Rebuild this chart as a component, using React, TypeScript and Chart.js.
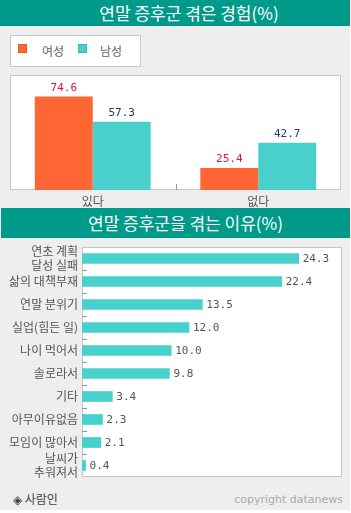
import React, { useEffect, useRef } from 'react';
import { Chart, registerables } from 'chart.js';

Chart.register(...registerables);

// ---------- data ----------
const expTitle = '연말 증후군 겪은 경험(%)';
const expCategories = ['있다', '없다'];
const seriesNames = ['여성', '남성'];
const femaleValues = [74.6, 25.4];
const maleValues = [57.3, 42.7];

const reasonTitle = '연말 증후군을 겪는 이유(%)';
const reasonLabels: (string | string[])[] = [
  ['연초 계획', '달성 실패'],
  '삶의 대책부재',
  '연말 분위기',
  '실업(힘든 일)',
  '나이 먹어서',
  '솔로라서',
  '기타',
  '아무이유없음',
  '모임이 많아서',
  ['날씨가', '추워져서'],
];
const reasonValues = [24.3, 22.4, 13.5, 12.0, 10.0, 9.8, 3.4, 2.3, 2.1, 0.4];

const sourceText = '◈ 사람인';
const copyrightText = 'copyright datanews';

// ---------- styles ----------
const KR = '"Noto Sans CJK KR", "Noto Sans", sans-serif';
const MONO = '"DejaVu Sans Mono", monospace';
const TEAL_HEAD = '#009a8a';
const ORANGE = '#ff6633';
const TURQ = '#48d1cc';
const BORDER = '#c8c8c8';

const boxPlugin = {
  id: 'boxBg',
  beforeDraw(chart: any) {
    const { ctx, chartArea: a } = chart;
    ctx.save();
    ctx.fillStyle = '#ffffff';
    ctx.fillRect(a.left, a.top, a.right - a.left, a.bottom - a.top);
    ctx.strokeStyle = BORDER;
    ctx.lineWidth = 1;
    ctx.strokeRect(a.left + 0.5, a.top + 0.5, a.right - a.left - 1, a.bottom - a.top - 1);
    ctx.restore();
  },
};

function valueLabelPlugin(horizontal: boolean, colors: string[]) {
  return {
    id: 'valueLabels',
    afterDatasetsDraw(chart: any) {
      const { ctx } = chart;
      ctx.save();
      ctx.font = `11px ${MONO}`;
      chart.data.datasets.forEach((ds: any, di: number) => {
        const meta = chart.getDatasetMeta(di);
        ctx.fillStyle = colors[di];
        meta.data.forEach((el: any, i: number) => {
          const txt = Number(ds.data[i]).toFixed(1);
          if (horizontal) {
            ctx.textAlign = 'left';
            ctx.textBaseline = 'middle';
            ctx.fillText(txt, el.x + 4, el.y + 1);
          } else {
            ctx.textAlign = 'center';
            ctx.textBaseline = 'alphabetic';
            ctx.fillText(txt, el.x, el.y - 6);
          }
        });
      });
      ctx.restore();
    },
  };
}

function tickMarkPlugin(horizontal: boolean) {
  return {
    id: 'tickMarks',
    afterDraw(chart: any) {
      const { ctx, chartArea: a } = chart;
      const scale = horizontal ? chart.scales.y : chart.scales.x;
      const n = scale.ticks.length;
      ctx.save();
      ctx.strokeStyle = '#999999';
      ctx.lineWidth = 1;
      for (let i = 1; i < n; i++) {
        const p = Math.round((scale.getPixelForTick(i - 1) + scale.getPixelForTick(i)) / 2);
        ctx.beginPath();
        if (horizontal) {
          ctx.moveTo(a.left, p + 0.5);
          ctx.lineTo(a.left + 5, p + 0.5);
        } else {
          ctx.moveTo(p + 0.5, a.bottom - 6);
          ctx.lineTo(p + 0.5, a.bottom);
        }
        ctx.stroke();
      }
      ctx.restore();
    },
  };
}

function ExperienceChart() {
  const ref = useRef<HTMLCanvasElement>(null);
  useEffect(() => {
    if (!ref.current) return;
    const maxV = Math.max(...femaleValues, ...maleValues);
    const minV = Math.min(...femaleValues, ...maleValues);
    const chart = new Chart(ref.current, {
      type: 'bar',
      data: {
        labels: expCategories,
        datasets: [
          { label: seriesNames[0], data: femaleValues, backgroundColor: ORANGE },
          { label: seriesNames[1], data: maleValues, backgroundColor: TURQ },
        ],
      },
      options: {
        animation: false,
        responsive: false,
        maintainAspectRatio: false,
        layout: { padding: 0 },
        datasets: { bar: { categoryPercentage: 0.7, barPercentage: 1.0, borderWidth: 0 } },
        plugins: { legend: { display: false }, tooltip: { enabled: false } },
        scales: {
          x: {
            grid: { display: false, drawTicks: false },
            border: { display: false },
            ticks: { color: '#555555', font: { family: KR, size: 12 }, padding: 4 },
            afterFit: (s: any) => { s.height = 20; s.paddingLeft = 0; s.paddingRight = 0; },
          },
          y: { display: false, min: minV * 0.4, max: maxV * 1.2 },
        },
      } as any,
      plugins: [boxPlugin, valueLabelPlugin(false, ['#e8103c', '#123a82']), tickMarkPlugin(false)],
    });
    return () => chart.destroy();
  }, []);
  return <canvas ref={ref} width={331} height={135} style={{ position: 'absolute', left: 10, top: 75, width: 331, height: 135 }} />;
}

function ReasonChart() {
  const ref = useRef<HTMLCanvasElement>(null);
  useEffect(() => {
    if (!ref.current) return;
    const maxV = Math.max(...reasonValues);
    const chart = new Chart(ref.current, {
      type: 'bar',
      data: {
        labels: reasonLabels,
        datasets: [{ label: '이유', data: reasonValues, backgroundColor: TURQ }],
      },
      options: {
        indexAxis: 'y',
        animation: false,
        responsive: false,
        maintainAspectRatio: false,
        layout: { padding: { top: 7, bottom: 13, right: 1, left: 0 } },
        datasets: { bar: { categoryPercentage: 1, barThickness: 10, borderWidth: 0 } },
        plugins: { legend: { display: false }, tooltip: { enabled: false } },
        scales: {
          x: { display: false, min: 0, max: maxV * 1.2 },
          y: {
            grid: { display: false, drawTicks: false },
            border: { display: false },
            ticks: { color: '#555555', font: { family: KR, size: 12, lineHeight: 1.2 }, padding: 4, autoSkip: false },
            afterFit: (s: any) => { s.width = 82; s.paddingTop = 0; s.paddingBottom = 0; },
          },
        },
      } as any,
      plugins: [boxPlugin, valueLabelPlugin(true, ['#555555']), tickMarkPlugin(true)],
    });
    return () => chart.destroy();
  }, []);
  return <canvas ref={ref} width={343} height={250} style={{ position: 'absolute', left: 0, top: 240, width: 343, height: 250 }} />;
}

export default function App() {
  const head: React.CSSProperties = {
    position: 'absolute',
    background: TEAL_HEAD,
    color: '#ffffff',
    fontFamily: KR,
    fontSize: 17,
    textAlign: 'center',
    boxSizing: 'border-box',
    whiteSpace: 'nowrap',
  };
  const sq = (c: string): React.CSSProperties => ({
    position: 'absolute', top: 7, width: 9, height: 9, background: c, boxSizing: 'border-box', border: '1px solid rgba(0,0,0,0.12)',
  });
  const legTxt: React.CSSProperties = { position: 'absolute', top: 0, lineHeight: '30px', fontFamily: KR, fontSize: 12, color: '#666666' };
  return (
    <div style={{ position: 'absolute', left: 0, top: 0, width: 351, height: 513, background: '#ffffff', overflow: 'hidden' }}>
      <div style={{ position: 'absolute', left: 0, top: 0, width: 350, height: 510, background: '#eeeeee' }} />
      <div style={{ ...head, left: 0, top: 0, width: 350, height: 26, lineHeight: '26px', paddingLeft: 28 }}>{expTitle}</div>
      <div style={{ position: 'absolute', left: 10, top: 35, width: 131, height: 32, background: '#ffffff', border: `1px solid ${BORDER}`, boxSizing: 'border-box' }}>
        <div style={{ ...sq(ORANGE), left: 7, top: 8 }} />
        <div style={{ ...legTxt, left: 31 }}>{seriesNames[0]}</div>
        <div style={{ ...sq(TURQ), left: 67, top: 8 }} />
        <div style={{ ...legTxt, left: 89 }}>{seriesNames[1]}</div>
      </div>
      <ExperienceChart />
      <div style={{ ...head, left: 1, top: 208, width: 349, height: 30, lineHeight: '30px', paddingLeft: 20 }}>{reasonTitle}</div>
      <ReasonChart />
      <div style={{ position: 'absolute', left: 13, top: 490, fontFamily: KR, fontSize: 12, color: '#444444', whiteSpace: 'nowrap', lineHeight: '18px' }}>{sourceText}</div>
      <div style={{ position: 'absolute', right: 8, top: 492, fontFamily: '"DejaVu Sans", sans-serif', fontSize: 11, color: '#aaaaaa', whiteSpace: 'nowrap', lineHeight: '16px' }}>{copyrightText}</div>
    </div>
  );
}
